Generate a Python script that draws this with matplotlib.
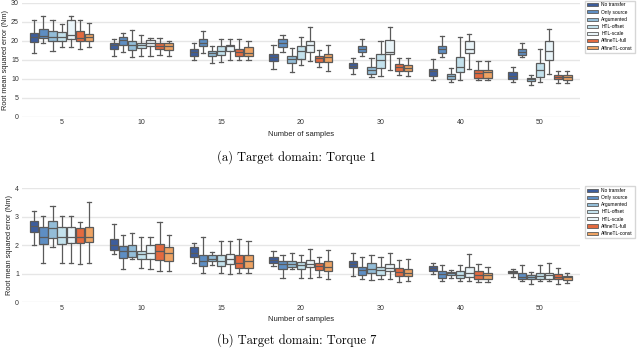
import matplotlib
matplotlib.use("Agg")
import matplotlib.pyplot as plt
from matplotlib.patches import Patch

samples = ["5", "10", "15", "20", "30", "40", "50"]
methods = ["No transfer", "Only source", "Argumented", "HTL-offset",
           "HTL-scale", "AffineTL-full", "AffineTL-const"]
colors = ["#3d5d9c", "#5e8ec3", "#93bdd8", "#c3e1ec", "#e9f4f8", "#e36a3f", "#eea363"]

# Torque 1: rows = number of samples, columns = methods
t1_lo = [[16.8, 19.4, 17.3, 18.3, 18.3, 17.9, 18.3],
         [16.0, 17.0, 15.8, 16.1, 16.0, 16.3, 16.1],
         [15.0, 16.8, 14.1, 14.5, 15.0, 15.0, 15.0],
         [12.5, 17.1, 11.8, 13.7, 14.7, 13.2, 12.0],
         [11.3, 16.1, 10.5, 10.7, 12.3, 11.0, 10.8],
         [9.7, 15.8, 9.0, 9.7, 12.6, 9.7, 9.7],
         [9.2, 15.8, 8.2, 9.1, 11.2, 8.8, 8.8]]
t1_q1 = [[19.6, 20.6, 19.8, 19.9, 20.5, 19.8, 19.9],
         [17.9, 19.0, 17.6, 18.1, 18.5, 17.8, 17.6],
         [16.0, 18.5, 16.0, 16.3, 17.4, 16.0, 16.0],
         [14.7, 18.4, 14.2, 15.1, 17.1, 14.3, 14.5],
         [12.7, 17.1, 11.2, 12.9, 16.4, 12.1, 12.0],
         [10.8, 16.8, 9.8, 11.7, 16.7, 10.2, 10.2],
         [10.0, 16.2, 9.3, 10.4, 15.0, 9.8, 9.6]]
t1_med = [[20.9, 21.3, 20.9, 20.9, 21.5, 20.6, 21.1],
          [18.8, 20.1, 18.8, 18.9, 19.3, 18.5, 18.5],
          [17.0, 19.5, 16.8, 17.4, 18.7, 17.0, 16.8],
          [15.7, 19.3, 15.1, 17.4, 18.8, 15.4, 15.6],
          [13.3, 17.9, 12.2, 14.8, 17.1, 13.0, 12.8],
          [11.9, 17.7, 10.6, 13.1, 17.9, 11.5, 11.7],
          [10.7, 17.1, 9.8, 12.2, 17.2, 10.4, 10.4]]
t1_q3 = [[22.0, 23.0, 22.6, 22.2, 25.4, 22.5, 21.9],
         [19.3, 21.1, 20.0, 19.4, 20.3, 19.3, 19.3],
         [17.9, 20.4, 17.4, 18.6, 18.9, 17.9, 18.4],
         [16.5, 20.4, 16.0, 18.5, 19.9, 16.0, 16.4],
         [14.2, 18.7, 13.2, 16.4, 20.1, 13.8, 13.5],
         [12.6, 18.6, 11.2, 15.7, 19.8, 12.3, 12.3],
         [11.7, 17.8, 10.3, 14.2, 19.8, 10.9, 10.9]]
t1_hi = [[25.4, 26.5, 25.4, 24.5, 26.5, 25.4, 24.7],
         [20.4, 22.0, 22.7, 21.5, 20.6, 20.6, 19.9],
         [19.5, 22.6, 18.7, 20.4, 20.4, 20.4, 19.9],
         [18.9, 21.4, 18.0, 21.1, 23.7, 17.6, 18.9],
         [15.5, 20.5, 15.5, 20.0, 23.5, 15.5, 15.5],
         [15.2, 21.2, 12.9, 21.1, 21.9, 14.6, 14.6],
         [13.2, 19.4, 11.0, 17.9, 23.0, 11.9, 12.1]]

# Torque 7
t7_lo = [[2.02, 1.38, 1.93, 1.38, 1.37, 1.35, 1.36],
         [1.68, 1.18, 1.52, 1.19, 1.16, 1.09, 1.10],
         [1.37, 1.03, 1.29, 1.03, 0.98, 1.04, 1.04],
         [1.27, 0.84, 1.15, 0.84, 0.84, 0.89, 0.81],
         [0.92, 0.82, 0.77, 0.83, 0.83, 0.71, 0.76],
         [0.98, 0.73, 0.84, 0.73, 0.73, 0.70, 0.71],
         [0.87, 0.76, 0.65, 0.75, 0.75, 0.65, 0.67]]
t7_q1 = [[2.46, 2.05, 2.25, 2.05, 2.08, 2.09, 2.12],
         [1.84, 1.54, 1.59, 1.53, 1.53, 1.47, 1.44],
         [1.60, 1.26, 1.46, 1.27, 1.33, 1.20, 1.20],
         [1.36, 1.16, 1.25, 1.17, 1.23, 1.12, 1.09],
         [1.23, 0.97, 1.04, 0.97, 1.08, 0.91, 0.92],
         [1.09, 0.85, 0.94, 0.84, 0.89, 0.83, 0.83],
         [1.01, 0.80, 0.80, 0.81, 0.82, 0.81, 0.78]]
t7_med = [[2.67, 2.28, 2.60, 2.27, 2.29, 2.29, 2.28],
          [1.99, 1.78, 1.78, 1.68, 1.72, 1.78, 1.72],
          [1.73, 1.46, 1.52, 1.46, 1.52, 1.38, 1.43],
          [1.47, 1.33, 1.35, 1.31, 1.33, 1.26, 1.24],
          [1.33, 1.13, 1.18, 1.13, 1.19, 1.05, 1.04],
          [1.19, 0.99, 1.01, 0.97, 1.03, 0.97, 0.94],
          [1.06, 0.89, 0.87, 0.91, 0.94, 0.89, 0.88]]
t7_q3 = [[2.83, 2.62, 2.85, 2.64, 2.64, 2.61, 2.65],
         [2.21, 1.98, 2.01, 1.81, 2.00, 2.04, 1.94],
         [1.93, 1.66, 1.66, 1.64, 1.70, 1.64, 1.67],
         [1.58, 1.45, 1.45, 1.40, 1.47, 1.37, 1.45],
         [1.43, 1.25, 1.36, 1.25, 1.33, 1.19, 1.18],
         [1.27, 1.09, 1.05, 1.08, 1.25, 1.09, 1.02],
         [1.11, 1.02, 0.95, 1.01, 1.04, 0.98, 0.92]]
t7_hi = [[3.20, 3.04, 3.36, 3.04, 3.04, 2.80, 3.51],
         [2.74, 2.36, 2.44, 2.30, 2.28, 2.80, 2.36],
         [2.09, 2.28, 1.77, 2.13, 2.16, 2.22, 2.14],
         [1.78, 1.66, 1.72, 1.66, 1.86, 1.57, 1.82],
         [1.71, 1.59, 1.67, 1.59, 1.74, 1.47, 1.51],
         [1.38, 1.31, 1.13, 1.31, 1.68, 1.33, 1.23],
         [1.17, 1.31, 1.06, 1.31, 1.36, 1.19, 1.04]]

plt.rcParams['font.family'] = ['Liberation Sans', 'DejaVu Sans']
edge = "#5a5a5a"


def draw(ax, lo, q1, med, q3, hi, ymax, yticks, caption, cap_y):
    n = len(methods)
    w = 0.8 / n
    for j, m in enumerate(methods):
        stats = []
        pos = []
        for i in range(len(samples)):
            stats.append(dict(med=med[i][j], q1=q1[i][j], q3=q3[i][j],
                              whislo=lo[i][j], whishi=hi[i][j], fliers=[]))
            pos.append(i + (j - (n - 1) / 2) * w)
        ax.bxp(stats, positions=pos, widths=w * 0.92, patch_artist=True,
               showfliers=False, manage_ticks=False,
               boxprops=dict(facecolor=colors[j], edgecolor=edge, linewidth=0.9),
               medianprops=dict(color=edge, linewidth=0.9),
               whiskerprops=dict(color=edge, linewidth=0.9),
               capprops=dict(color=edge, linewidth=0.9))
    ax.set_xlim(-0.5, len(samples) - 0.5)
    ax.set_ylim(0, ymax)
    ax.set_xticks(range(len(samples)))
    ax.set_xticklabels(samples)
    ax.set_yticks(yticks)
    ax.yaxis.grid(True, color="#e6e6e6", linewidth=1.0)
    ax.set_axisbelow(True)
    for s in ax.spines.values():
        s.set_visible(False)
    ax.tick_params(length=0, labelsize=5, colors="#333333", pad=2)
    ax.set_xlabel("Number of samples", fontsize=5.5, labelpad=3, color="#222222")
    ax.set_ylabel("Root mean squared error (Nm)", fontsize=5.3, labelpad=1.5, color="#222222")
    handles = [Patch(facecolor=c, edgecolor=edge, linewidth=0.6) for c in colors]
    ax.legend(handles, methods, loc="upper left", bbox_to_anchor=(1.01, 1.02),
              fontsize=3.5, frameon=True, edgecolor="#cccccc", fancybox=False,
              handlelength=2.2, handleheight=0.6, labelspacing=0.45,
              borderpad=0.4, handletextpad=0.7, borderaxespad=0)
    fig.text(0.463, cap_y, caption, family="cmr10", fontsize=9, ha="center", va="center")


fig = plt.figure(figsize=(6.4, 3.49), dpi=100)
ax1 = fig.add_axes([0.034, 0.666, 0.872, 0.326])
ax2 = fig.add_axes([0.034, 0.134, 0.872, 0.327])
draw(ax1, t1_lo, t1_q1, t1_med, t1_q3, t1_hi, 30, range(0, 31, 5),
     "(a) Target domain: Torque 1", 0.55)
draw(ax2, t7_lo, t7_q1, t7_med, t7_q3, t7_hi, 4, range(0, 5),
     "(b) Target domain: Torque 7", 0.026)

fig.savefig("out.png", dpi=100)
